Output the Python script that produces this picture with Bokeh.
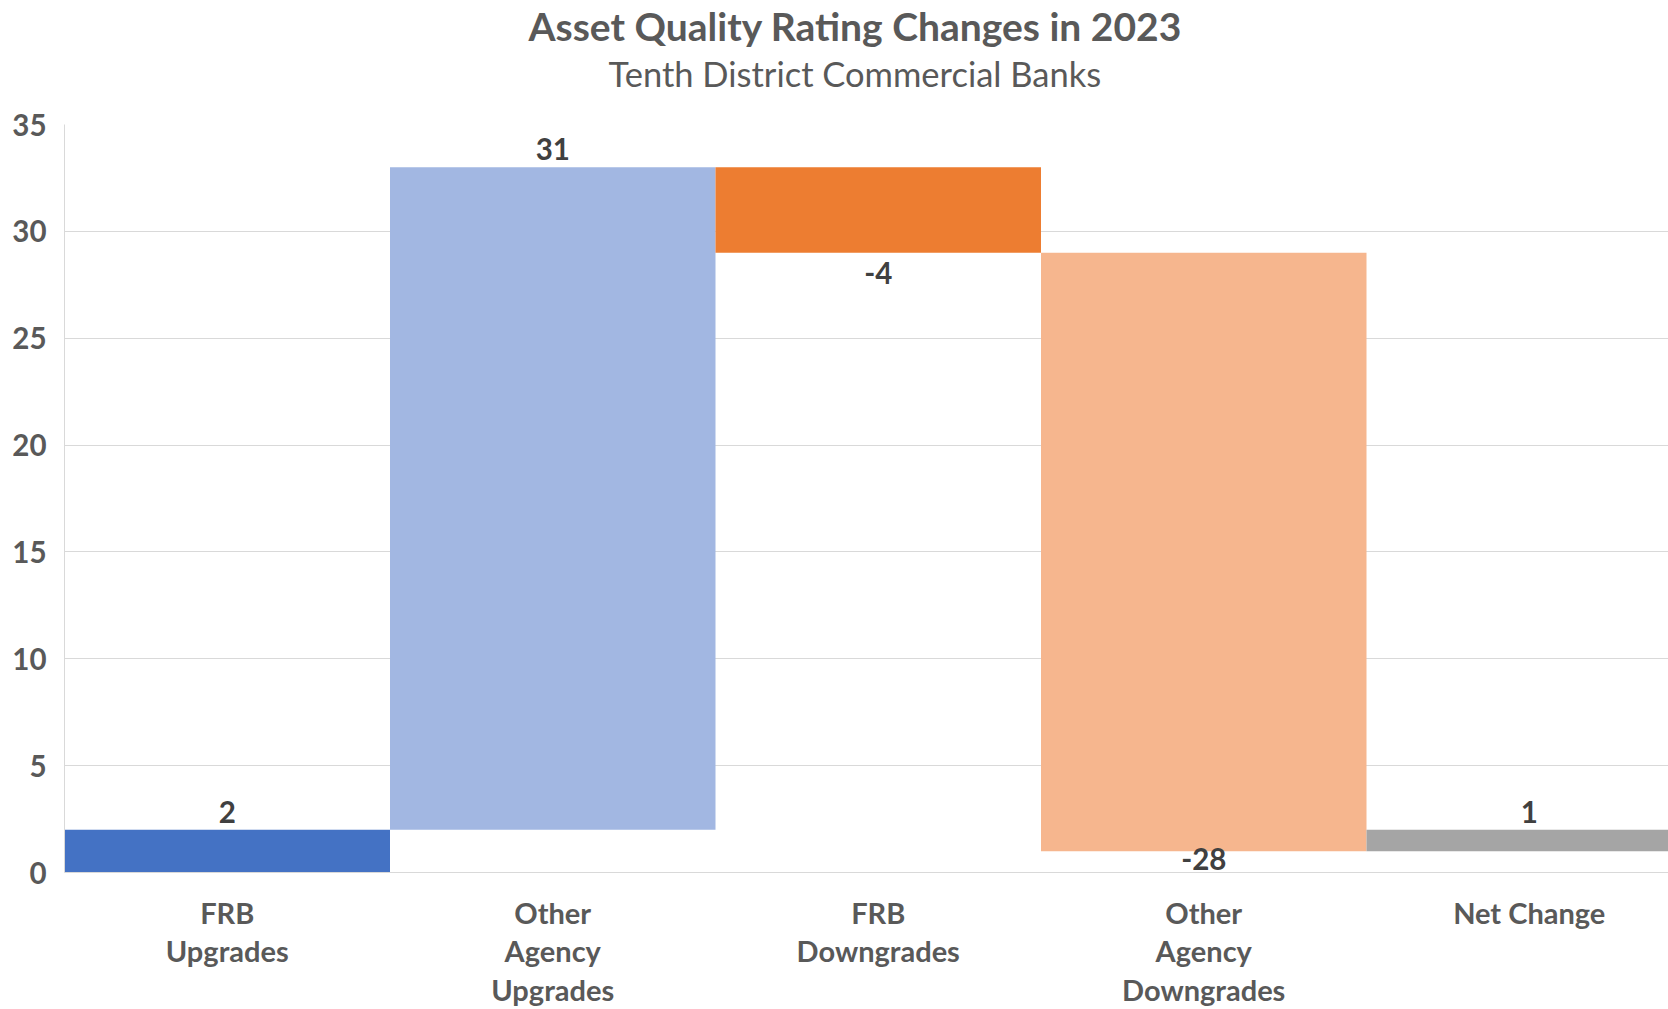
from bokeh.plotting import figure
from bokeh.models import Range1d, FixedTicker, ColumnDataSource, Title
from bokeh.core.properties import value
from bokeh.embed import file_html
from bokeh.resources import INLINE

# ---- data ----
title_text = "Asset Quality Rating Changes in 2023"
subtitle_text = "Tenth District Commercial Banks"
categories = ["FRB\nUpgrades", "Other\nAgency\nUpgrades", "FRB\nDowngrades",
              "Other\nAgency\nDowngrades", "Net Change"]
changes = [2, 31, -4, -28]
net_change = 1
label_texts = ["2", "31", "-4", "-28", "1"]
y_ticks = [0, 5, 10, 15, 20, 25, 30, 35]
bar_colors = ["#4472C4", "#A2B7E2", "#ED7D31", "#F6B68E", "#A5A5A5"]

# ---- waterfall geometry from data ----
bottoms, tops = [], []
run = 0
for c in changes:
    bottoms.append(min(run, run + c))
    tops.append(max(run, run + c))
    run += c
bottoms.append(run)
tops.append(run + net_change)
values = changes + [net_change]

W, H = 1668, 1009
FRAME_TOP, FRAME_BOTTOM = 124, 872
LEFT = 64
frame_h = FRAME_BOTTOM - FRAME_TOP
ppu = frame_h / 35.0
cat_w = 325.5
x_end = (W - LEFT) / cat_w

label_y = []
for b, t, v in zip(bottoms, tops, values):
    if v >= 0:
        label_y.append(t + 18 / ppu)
    else:
        label_y.append(max(b - 20 / ppu, 14 / ppu))

idx = list(range(len(categories)))
src = ColumnDataSource(dict(
    left=[i for i in idx], right=[i + 1 for i in idx],
    bottom=bottoms, top=tops, color=bar_colors,
    lx=[i + 0.5 for i in idx], ly=label_y, txt=label_texts))

p = figure(width=W, height=H, title=None,
           x_range=Range1d(0, x_end), y_range=Range1d(0, 35),
           output_backend="svg", toolbar_location=None,
           min_border_left=LEFT, min_border_right=0,
           min_border_top=FRAME_TOP, min_border_bottom=H - FRAME_BOTTOM)
p.outline_line_color = None
p.background_fill_color = "white"
p.border_fill_color = "white"

# titles stacked above the frame (first added = nearest the frame)
spacer = Title(text=" ", text_font="Lato", text_font_size="10px",
               text_color="white", standoff=15)
sub = Title(text=subtitle_text, align="left", offset=544,
            text_font="Lato", text_font_size="34.5px",
            text_font_style="normal", text_color="#595959", standoff=4)
main = Title(text=title_text, align="left", offset=464,
             text_font="Lato", text_font_size="39px",
             text_font_style="bold", text_color="#595959", standoff=0)
p.add_layout(spacer, "above")
p.add_layout(sub, "above")
p.add_layout(main, "above")

p.quad(left="left", right="right", bottom="bottom", top="top",
       fill_color="color", line_color=None, source=src)

p.text(x="lx", y="ly", text="txt", source=src, text_align="center",
       text_baseline="middle", text_font=value("Lato"),
       text_font_size="29.5px", text_font_style="bold", text_color="#404040")

# axes
p.xgrid.grid_line_color = None
p.ygrid.grid_line_color = "#D9D9D9"
p.ygrid.grid_line_width = 1
p.yaxis.ticker = FixedTicker(ticks=y_ticks)
p.yaxis.axis_line_color = "#D9D9D9"
p.yaxis.major_tick_line_color = None
p.yaxis.minor_tick_line_color = None
p.yaxis.major_label_standoff = 12
p.yaxis.major_label_text_font = "Lato"
p.yaxis.major_label_text_font_size = "29.5px"
p.yaxis.major_label_text_font_style = "bold"
p.yaxis.major_label_text_color = "#595959"

p.xaxis.ticker = FixedTicker(ticks=[i + 0.5 for i in idx])
p.xaxis.major_label_overrides = {i + 0.5: c for i, c in zip(idx, categories)}
p.xaxis.axis_line_color = "#D9D9D9"
p.xaxis.major_tick_line_color = None
p.xaxis.minor_tick_line_color = None
p.xaxis.major_label_standoff = 16
p.xaxis.major_label_text_font = "Lato"
p.xaxis.major_label_text_font_size = "29px"
p.xaxis.major_label_text_font_style = "bold"
p.xaxis.major_label_text_color = "#595959"
p.xaxis.major_label_text_line_height = 1.1

open("out.html", "w").write(file_html(p, INLINE))
